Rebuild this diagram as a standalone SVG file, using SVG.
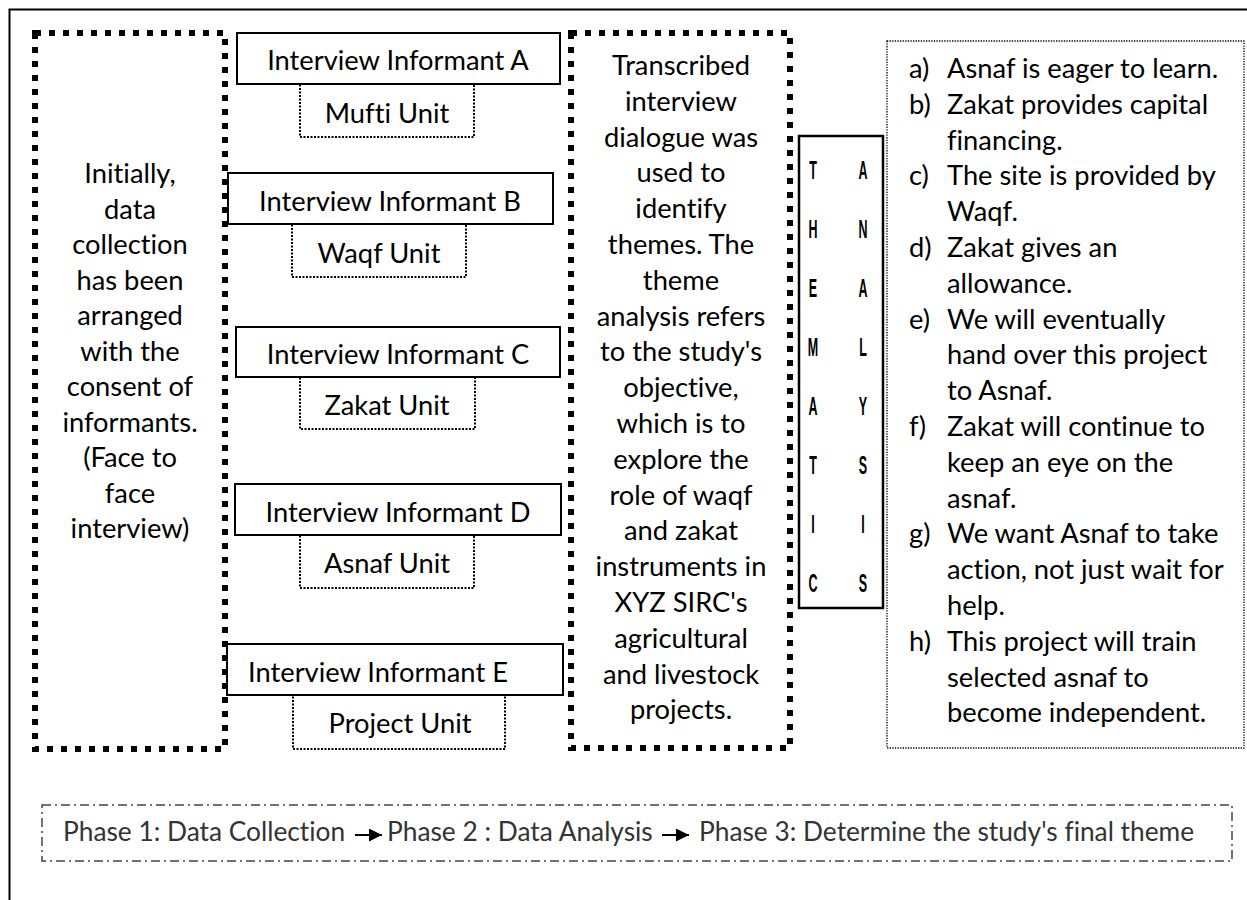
<svg xmlns="http://www.w3.org/2000/svg" width="1247" height="900" viewBox="0 0 1247 900">
<defs>
<style>
text{font-variant-ligatures:none;font-feature-settings:"liga" 0,"clig" 0}
.t{font-family:Lato,"Liberation Sans",sans-serif;font-size:27.3px;fill:#000}
.c{text-anchor:middle}
.sq{fill:none;stroke:#000;stroke-width:6;stroke-dasharray:6 8}
.solid{fill:none;stroke:#000;stroke-width:2}
.dot{fill:none;stroke:#000;stroke-width:2;stroke-dasharray:2 1.5}
.fine{fill:none;stroke:#000;stroke-width:1.3;stroke-dasharray:1.3 1.3}
.dd{fill:none;stroke:#444;stroke-width:1.5;stroke-dasharray:9 4 2 4}
.ph{font-family:Lato,"Liberation Sans",sans-serif;font-size:26.3px;fill:#333}
.lt{font-family:"Liberation Sans",Arial,sans-serif;font-size:25px;font-weight:bold;fill:#000;text-anchor:middle}
.arr{stroke:#000;stroke-width:2;fill:none}
</style>
<marker id="ah" viewBox="0 0 10 10" refX="10" refY="5" markerUnits="userSpaceOnUse" markerWidth="15" markerHeight="13" orient="auto">
<path d="M0,0 L10,5 L0,10 z" fill="#000"/>
</marker>
</defs>
<rect width="1247" height="900" fill="#fff"/>
<path d="M9.5,900 V9.5 H1247" fill="none" stroke="#000" stroke-width="2"/>

<g id="collection">
<rect class="sq" x="35" y="33" width="190" height="716"/>
<text class="t c" x="130"><tspan x="130" y="183">Initially,</tspan><tspan x="130" y="218.5">data</tspan><tspan x="130" y="254">collection</tspan><tspan x="130" y="289.5">has been</tspan><tspan x="130" y="325">arranged</tspan><tspan x="130" y="360.5">with the</tspan><tspan x="130" y="396">consent of</tspan><tspan x="130" y="431.5">informants.</tspan><tspan x="130" y="467">(Face to</tspan><tspan x="130" y="502.5">face</tspan><tspan x="130" y="538">interview)</tspan></text>
</g>

<g id="informantA">
<rect class="solid" x="237" y="33" width="323" height="51"/>
<text class="t c" x="398" y="70">Interview Informant A</text>
</g>
<g id="muftiUnit">
<rect class="dot" x="300" y="84" width="174" height="53"/>
<text class="t c" x="387" y="123">Mufti Unit</text>
</g>
<g id="informantB">
<rect class="solid" x="228" y="173" width="325" height="51"/>
<text class="t c" x="390" y="211">Interview Informant B</text>
</g>
<g id="waqfUnit">
<rect class="dot" x="292" y="224" width="174" height="53"/>
<text class="t c" x="379" y="263">Waqf Unit</text>
</g>
<g id="informantC">
<rect class="solid" x="236" y="327" width="324" height="50"/>
<text class="t c" x="398" y="364">Interview Informant C</text>
</g>
<g id="zakatUnit">
<rect class="dot" x="300" y="377" width="175" height="52"/>
<text class="t c" x="387" y="415">Zakat Unit</text>
</g>
<g id="informantD">
<rect class="solid" x="235" y="484" width="326" height="51"/>
<text class="t c" x="398" y="522">Interview Informant D</text>
</g>
<g id="asnafUnit">
<rect class="dot" x="300" y="535" width="174" height="53"/>
<text class="t c" x="387" y="573">Asnaf Unit</text>
</g>
<g id="informantE">
<rect class="solid" x="227" y="644" width="336" height="51"/>
<text class="t c" x="378" y="682">Interview Informant E</text>
</g>
<g id="projectUnit">
<rect class="dot" x="293" y="695" width="212" height="54"/>
<text class="t c" x="400" y="733">Project Unit</text>
</g>

<g id="analysis">
<rect class="sq" x="571" y="33" width="219" height="715"/>
<text class="t c"><tspan x="681" y="75">Transcribed</tspan><tspan x="681" y="110.8">interview</tspan><tspan x="681" y="146.6">dialogue was</tspan><tspan x="681" y="182.4">used to</tspan><tspan x="681" y="218.2">identify</tspan><tspan x="681" y="254">themes. The</tspan><tspan x="681" y="289.8">theme</tspan><tspan x="681" y="325.6">analysis refers</tspan><tspan x="681" y="361.4">to the study's</tspan><tspan x="681" y="397.2">objective,</tspan><tspan x="681" y="433">which is to</tspan><tspan x="681" y="468.8">explore the</tspan><tspan x="681" y="504.6">role of waqf</tspan><tspan x="681" y="540.4">and zakat</tspan><tspan x="681" y="576.2">instruments in</tspan><tspan x="681" y="612">XYZ SIRC's</tspan><tspan x="681" y="647.8">agricultural</tspan><tspan x="681" y="683.6">and livestock</tspan><tspan x="681" y="719.4">projects.</tspan></text>
</g>

<g id="thematic">
<rect x="799" y="136" width="84" height="472" fill="none" stroke="#000" stroke-width="2.5"/>
<text class="lt" transform="translate(813,179) scale(0.5,1)">T</text>
<text class="lt" transform="translate(813,238) scale(0.5,1)">H</text>
<text class="lt" transform="translate(813,297) scale(0.5,1)">E</text>
<text class="lt" transform="translate(813,356) scale(0.5,1)">M</text>
<text class="lt" transform="translate(813,415) scale(0.5,1)">A</text>
<text class="lt" transform="translate(813,474) scale(0.5,1)">T</text>
<text class="lt" transform="translate(813,533) scale(0.5,1)">I</text>
<text class="lt" transform="translate(813,592) scale(0.5,1)">C</text>
<text class="lt" transform="translate(863,179) scale(0.5,1)">A</text>
<text class="lt" transform="translate(863,238) scale(0.5,1)">N</text>
<text class="lt" transform="translate(863,297) scale(0.5,1)">A</text>
<text class="lt" transform="translate(863,356) scale(0.5,1)">L</text>
<text class="lt" transform="translate(863,415) scale(0.5,1)">Y</text>
<text class="lt" transform="translate(863,474) scale(0.5,1)">S</text>
<text class="lt" transform="translate(863,533) scale(0.5,1)">I</text>
<text class="lt" transform="translate(863,592) scale(0.5,1)">S</text>
</g>

<g id="themes">
<rect class="fine" x="887" y="41" width="357" height="707"/>
<text class="t"><tspan x="909" y="78">a)</tspan><tspan x="909" y="114">b)</tspan><tspan x="909" y="185">c)</tspan><tspan x="909" y="257">d)</tspan><tspan x="909" y="329">e)</tspan><tspan x="909" y="436">f)</tspan><tspan x="909" y="543">g)</tspan><tspan x="909" y="651">h)</tspan></text>
<text class="t"><tspan x="947" y="78">Asnaf is eager to learn.</tspan><tspan x="947" y="114">Zakat provides capital</tspan><tspan x="947" y="150">financing.</tspan><tspan x="947" y="185">The site is provided by</tspan><tspan x="947" y="221">Waqf.</tspan><tspan x="947" y="257">Zakat gives an</tspan><tspan x="947" y="293">allowance.</tspan><tspan x="947" y="329">We will eventually</tspan><tspan x="947" y="364">hand over this project</tspan><tspan x="947" y="400">to Asnaf.</tspan><tspan x="947" y="436">Zakat will continue to</tspan><tspan x="947" y="472">keep an eye on the</tspan><tspan x="947" y="508">asnaf.</tspan><tspan x="947" y="543">We want Asnaf to take</tspan><tspan x="947" y="579">action, not just wait for</tspan><tspan x="947" y="615">help.</tspan><tspan x="947" y="651">This project will train</tspan><tspan x="947" y="687">selected asnaf to</tspan><tspan x="947" y="722">become independent.</tspan></text>
</g>

<g id="phases">
<rect class="dd" x="42" y="805" width="1190" height="56"/>
<text class="ph" x="63" y="841">Phase 1: Data Collection</text>
<text class="ph" x="387" y="841">Phase 2 : Data Analysis</text>
<text class="ph" x="699" y="841">Phase 3: Determine the study's final theme</text>
</g>

<g id="connectors">
<line class="arr" x1="355" y1="835" x2="382" y2="835" marker-end="url(#ah)"/>
<line class="arr" x1="662" y1="835" x2="689" y2="835" marker-end="url(#ah)"/>
</g>
</svg>
